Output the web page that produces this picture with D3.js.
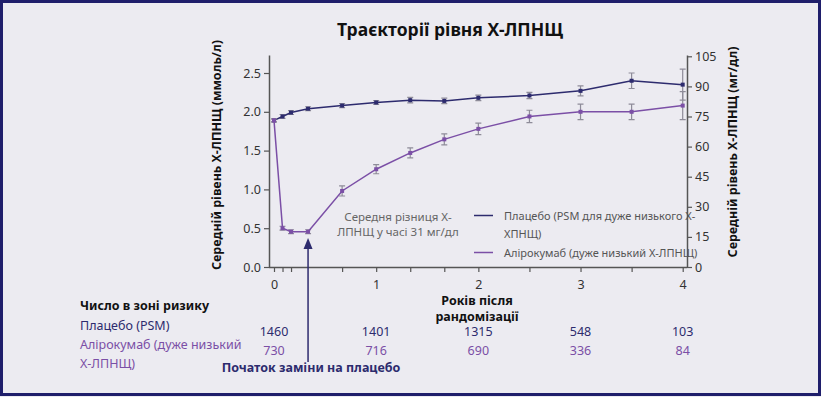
<!DOCTYPE html>
<html>
<head>
<meta charset="utf-8">
<script src="https://cdn.jsdelivr.net/npm/d3@7"></script>
<style>
  body { margin: 0; background: #ecebf1; }
  svg { display: block; font-family: "Noto Sans", "Open Sans", sans-serif; }
</style>
</head>
<body>
<svg id="chart" width="821" height="397"></svg>
<script>
// Years after randomisation for each measurement
const years = [0, 1 / 12, 1 / 6, 1 / 3, 2 / 3, 1, 4 / 3, 5 / 3, 2, 2.5, 3, 3.5, 4];
// Mean LDL-C, mmol/L
const placebo = [1.89, 1.94, 1.99, 2.04, 2.08, 2.12, 2.15, 2.14, 2.18, 2.21, 2.27, 2.40, 2.35];
const placeboErr = [0.02, 0.025, 0.025, 0.025, 0.025, 0.025, 0.035, 0.035, 0.035, 0.04, 0.065, 0.1, 0.2];
const aliro = [1.89, 0.50, 0.455, 0.455, 0.98, 1.26, 1.47, 1.645, 1.78, 1.94, 2.0, 2.0, 2.08];
const aliroErr = [0.02, 0.025, 0.025, 0.025, 0.065, 0.058, 0.065, 0.07, 0.075, 0.08, 0.1, 0.1, 0.18];

const xTicks = [0, 1 / 12, 1 / 6, 2 / 3, 1, 4 / 3, 5 / 3, 2, 2.5, 3, 3.5, 4];
const xLabels = [0, 1, 2, 3, 4];
const leftTicks = [0, 0.5, 1.0, 1.5, 2.0, 2.5];
const rightTicks = [0, 15, 30, 45, 60, 75, 90, 105];

const riskYears = [0, 1, 2, 3, 4];
const riskPlacebo = [1460, 1401, 1315, 548, 103];
const riskAliro = [730, 716, 690, 336, 84];

const navy = '#2d2b6e';
const purple = '#7b4fa6';
const grey = '#555';

const svg = d3.select('#chart');

// frame
svg.append('rect')
  .attr('x', 1.5).attr('y', 1.5)
  .attr('width', 818).attr('height', 393)
  .attr('fill', '#ecebf1')
  .attr('stroke', '#1f1e6b')
  .attr('stroke-width', 3);

const x = d3.scaleLinear().domain([0, 4]).range([274, 682.7]);
const y = d3.scaleLinear().domain([0, 2.732]).range([267, 55]);
const yRight = d3.scaleLinear().domain([0, 2.732 * 38.67]).range([267, 55]);

svg.append('text')
  .attr('x', 450).attr('y', 36)
  .attr('text-anchor', 'middle')
  .attr('font-size', 17.5).attr('font-weight', 'bold')
  .attr('fill', '#111')
  .text('Траєкторії рівня Х-ЛПНЩ');

// axes
const axisStyle = g => {
  g.selectAll('.domain').attr('stroke', grey).attr('stroke-width', 1.5);
  g.selectAll('.tick line').attr('stroke', grey).attr('stroke-width', 1.2);
  g.selectAll('.tick text').attr('fill', '#333').attr('font-size', 12.5)
    .attr('font-family', '"Noto Sans", sans-serif');
};

svg.append('g')
  .attr('transform', 'translate(269,0)')
  .call(d3.axisLeft(y).tickValues(leftTicks).tickFormat(d3.format('.1f')).tickSize(5).tickSizeOuter(0))
  .call(axisStyle);

svg.append('g')
  .attr('transform', 'translate(687,0)')
  .call(d3.axisRight(yRight).tickValues(rightTicks).tickSize(5).tickSizeOuter(0))
  .call(axisStyle);

const xAxis = svg.append('g')
  .attr('transform', 'translate(0,267)')
  .call(d3.axisBottom(x).tickValues(xTicks)
    .tickFormat(d => xLabels.includes(d) ? d : '').tickSize(5).tickSizeOuter(0))
  .call(axisStyle);
xAxis.select('.domain').attr('d', 'M269,0.5H687');
xAxis.selectAll('.tick text').attr('dy', '1.1em');

// axis titles
svg.append('text')
  .attr('transform', 'translate(221,155) rotate(-90)')
  .attr('text-anchor', 'middle')
  .attr('font-size', 12.5).attr('font-weight', 'bold').attr('fill', '#111')
  .text('Середній рівень Х-ЛПНЩ (ммоль/л)');

svg.append('text')
  .attr('transform', 'translate(737,152) rotate(-90)')
  .attr('text-anchor', 'middle')
  .attr('font-size', 12.5).attr('font-weight', 'bold').attr('fill', '#111')
  .text('Середній рівень Х-ЛПНЩ (мг/дл)');

svg.append('text')
  .attr('x', 477).attr('text-anchor', 'middle')
  .attr('font-size', 12.5).attr('font-weight', 'bold').attr('fill', '#111')
  .selectAll('tspan')
  .data(['Років після', 'рандомізації'])
  .join('tspan')
  .attr('x', 477)
  .attr('y', (d, i) => 305 + i * 15.5)
  .text(d => d);

// series
const series = [
  { name: 'placebo', values: placebo, err: placeboErr, color: navy },
  { name: 'aliro', values: aliro, err: aliroErr, color: purple }
];

const line = d3.line().x(d => x(d[0])).y(d => y(d[1]));

series.forEach(s => {
  const pts = years.map((t, i) => [t, s.values[i], s.err[i]]);
  const g = svg.append('g');
  g.selectAll('.err')
    .data(pts)
    .join('path')
    .attr('d', d => {
      const cx = x(d[0]), y0 = y(d[1] - d[2]), y1 = y(d[1] + d[2]);
      return `M${cx - 3},${y0}H${cx + 3}M${cx},${y0}V${y1}M${cx - 3},${y1}H${cx + 3}`;
    })
    .attr('fill', 'none')
    .attr('stroke', '#8e8c99')
    .attr('stroke-width', 1.2);
  g.append('path')
    .datum(pts)
    .attr('d', line)
    .attr('fill', 'none')
    .attr('stroke', s.color)
    .attr('stroke-width', 1.5);
  g.selectAll('.pt')
    .data(pts)
    .join('rect')
    .attr('x', d => x(d[0]) - 2)
    .attr('y', d => y(d[1]) - 2)
    .attr('width', 4).attr('height', 4)
    .attr('fill', s.color);
});

// annotation
svg.append('text')
  .attr('text-anchor', 'middle')
  .attr('font-size', 11.5).attr('fill', '#666')
  .selectAll('tspan')
  .data(['Середня різниця Х-', 'ЛПНЩ у часі 31 мг/дл'])
  .join('tspan')
  .attr('x', 398)
  .attr('y', (d, i) => 221 + i * 15)
  .text(d => d);

// legend
const legend = svg.append('g');
legend.append('line').attr('x1', 474).attr('x2', 493).attr('y1', 215.5).attr('y2', 215.5)
  .attr('stroke', navy).attr('stroke-width', 1.5);
legend.append('line').attr('x1', 474).attr('x2', 493).attr('y1', 252.5).attr('y2', 252.5)
  .attr('stroke', purple).attr('stroke-width', 1.5);
legend.append('text')
  .attr('font-size', 11).attr('fill', '#555')
  .selectAll('tspan')
  .data(['Плацебо (PSM для дуже низького Х-', 'ХПНЩ)', 'Алірокумаб (дуже низький Х-ЛПНЩ)'])
  .join('tspan')
  .attr('x', 504)
  .attr('y', (d, i) => 219.5 + i * 18.5)
  .text(d => d);

// switch-to-placebo arrow
const arrowX = x(1 / 3);
svg.append('line')
  .attr('x1', arrowX).attr('x2', arrowX)
  .attr('y1', 362).attr('y2', 246)
  .attr('stroke', navy).attr('stroke-width', 1.5);
svg.append('path')
  .attr('d', `M${arrowX},238L${arrowX - 4.5},249L${arrowX + 4.5},249Z`)
  .attr('fill', navy);
svg.append('text')
  .attr('x', 311).attr('y', 372)
  .attr('text-anchor', 'middle')
  .attr('font-size', 12.5).attr('font-weight', 'bold').attr('fill', navy)
  .text('Початок заміни на плацебо');

// numbers at risk
svg.append('text')
  .attr('x', 80).attr('y', 310)
  .attr('font-size', 12.5).attr('font-weight', 'bold').attr('fill', '#111')
  .text('Число в зоні ризику');
svg.append('text')
  .attr('x', 80).attr('y', 330)
  .attr('font-size', 12.5).attr('fill', navy)
  .text('Плацебо (PSM)');
svg.append('text')
  .attr('font-size', 12.5).attr('fill', purple)
  .selectAll('tspan')
  .data(['Алірокумаб (дуже низький', 'Х-ЛПНЩ)'])
  .join('tspan')
  .attr('x', 80)
  .attr('y', (d, i) => 349 + i * 19)
  .text(d => d);

svg.append('g').selectAll('text')
  .data(riskYears.map((t, i) => [t, riskPlacebo[i]]))
  .join('text')
  .attr('x', d => x(d[0])).attr('y', 336)
  .attr('text-anchor', 'middle')
  .attr('font-size', 12.5).attr('fill', navy)
  .text(d => d[1]);

svg.append('g').selectAll('text')
  .data(riskYears.map((t, i) => [t, riskAliro[i]]))
  .join('text')
  .attr('x', d => x(d[0])).attr('y', 355)
  .attr('text-anchor', 'middle')
  .attr('font-size', 12.5).attr('fill', purple)
  .text(d => d[1]);
</script>
</body>
</html>
